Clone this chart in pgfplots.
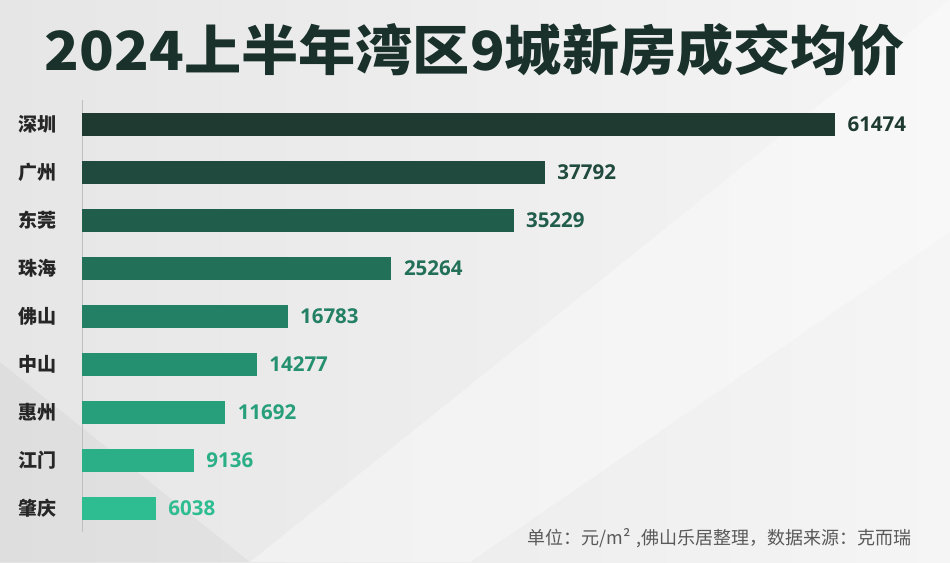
\documentclass[border=0pt]{standalone}
\usepackage{pgfplots}
\pgfplotsset{compat=1.18}
\usepackage{fontspec}
\setmainfont{Noto Sans CJK SC}
\newfontfamily\cjk{Noto Sans CJK SC}
\newfontfamily\numfont{Open Sans}
\definecolor{c1}{HTML}{1E3A31}
\definecolor{c2}{HTML}{1F4A3D}
\definecolor{c3}{HTML}{205D4B}
\definecolor{c4}{HTML}{227058}
\definecolor{c5}{HTML}{238064}
\definecolor{c6}{HTML}{25906F}
\definecolor{c7}{HTML}{279F7B}
\definecolor{c8}{HTML}{2AAF86}
\definecolor{c9}{HTML}{2DBD91}
\definecolor{bgA}{HTML}{E6E6E6}
\definecolor{bgB}{HTML}{F5F5F5}
\begin{document}
\begin{tikzpicture}
\shade[left color=bgA, right color=bgB] (0,0) rectangle (950pt,562pt);
\fill[white, opacity=0.35] (250pt,0) -- (470pt,0) -- (950pt,330pt) -- (950pt,562pt) -- cycle;
\fill[black, opacity=0.03] (0,0) -- (250pt,0) -- (0,200pt) -- cycle;
\node[anchor=center] at (475pt,512pt) {\resizebox{860pt}{47pt}{\cjk\bfseries\color{c1!85!black}2024上半年湾区9城新房成交均价}};
\begin{axis}[
  at={(82pt,30pt)}, anchor=south west,
  width=868pt, height=432pt, scale only axis,
  xmin=0, xmax=70862, ymin=-0.5, ymax=8.5,
  y dir=reverse,
  xbar, bar width=23pt, bar shift=0pt,
  axis x line=none, axis y line*=left,
  y axis line style={black!25, line width=1pt},
  ytick={0,...,8},
  yticklabels={深圳,广州,东莞,珠海,佛山,中山,惠州,江门,肇庆},
  major tick length=0pt,
  yticklabel style={font=\fontsize{19}{19}\selectfont\bfseries, text=black!85, xshift=-22pt},
  point meta=explicit symbolic,
  nodes near coords,
  nodes near coords style={anchor=west, xshift=9pt, font=\numfont\fontsize{20.5}{20.5}\selectfont\bfseries},
  clip=false,
]
\addplot[fill=c1, draw=none, nodes near coords style={text=c1}] coordinates {(61474,0) [61474]};
\addplot[fill=c2, draw=none, nodes near coords style={text=c2}] coordinates {(37792,1) [37792]};
\addplot[fill=c3, draw=none, nodes near coords style={text=c3}] coordinates {(35229,2) [35229]};
\addplot[fill=c4, draw=none, nodes near coords style={text=c4}] coordinates {(25264,3) [25264]};
\addplot[fill=c5, draw=none, nodes near coords style={text=c5}] coordinates {(16783,4) [16783]};
\addplot[fill=c6, draw=none, nodes near coords style={text=c6}] coordinates {(14277,5) [14277]};
\addplot[fill=c7, draw=none, nodes near coords style={text=c7}] coordinates {(11692,6) [11692]};
\addplot[fill=c8, draw=none, nodes near coords style={text=c8}] coordinates {(9136,7) [9136]};
\addplot[fill=c9, draw=none, nodes near coords style={text=c9}] coordinates {(6038,8) [6038]};
\end{axis}
\node[anchor=east, text=black!65, font=\cjk\fontsize{18}{18}\selectfont] at (915pt,24pt) {单位：元/m²\,\,,佛山乐居整理，数据来源：克而瑞};
\end{tikzpicture}
\end{document}
